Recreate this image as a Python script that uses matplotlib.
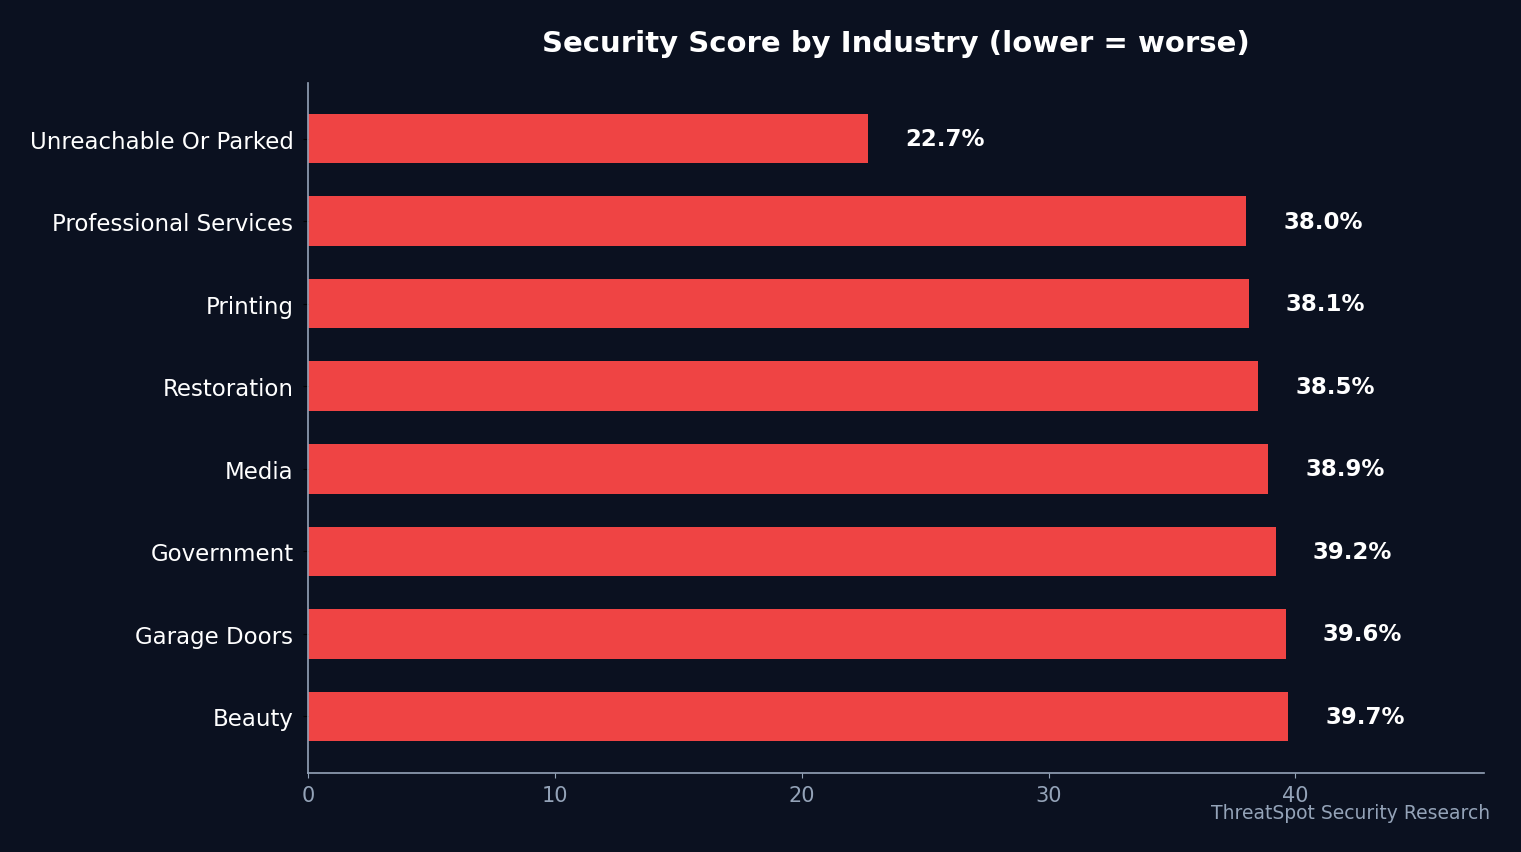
import matplotlib
matplotlib.use('Agg')

import matplotlib.pyplot as plt

# Data (top to bottom as shown)
industries = ["Unreachable Or Parked", "Professional Services", "Printing", "Restoration",
              "Media", "Government", "Garage Doors", "Beauty"]
scores = [22.7, 38.0, 38.1, 38.5, 38.9, 39.2, 39.6, 39.7]

bg = "#0b1120"
bar_color = "#ef4444"
muted = "#94a3b8"

fig = plt.figure(figsize=(15.21, 8.53), dpi=100, facecolor=bg)
ax = fig.add_axes([0.2025, 0.0932, 0.7732, 0.8089])
ax.set_facecolor(bg)

ax.barh(industries, scores, height=0.6, color=bar_color)
ax.invert_yaxis()
ax.set_xlim(0, max(scores) * 1.2)

# Value labels
for i, v in enumerate(scores):
    ax.text(v + 1.5, i, f"{v:.1f}%", va="center", ha="left",
            color="white", fontsize=16.5, fontweight="bold")

ax.set_title("Security Score by Industry (lower = worse)", color="white",
             fontsize=21, fontweight="bold", pad=23)

# Axes styling
for side in ["top", "right"]:
    ax.spines[side].set_visible(False)
for side in ["left", "bottom"]:
    ax.spines[side].set_color(muted)
    ax.spines[side].set_linewidth(1.2)
ax.tick_params(axis="y", labelsize=16.5, labelcolor="white", color="black", pad=7)
ax.tick_params(axis="x", labelsize=15, labelcolor=muted, color=muted, pad=5.5)

fig.text(0.98, 0.035, "ThreatSpot Security Research", ha="right", va="bottom",
         color=muted, fontsize=13.5)

fig.savefig("out.png", dpi=100, facecolor=bg)
plt.close()
